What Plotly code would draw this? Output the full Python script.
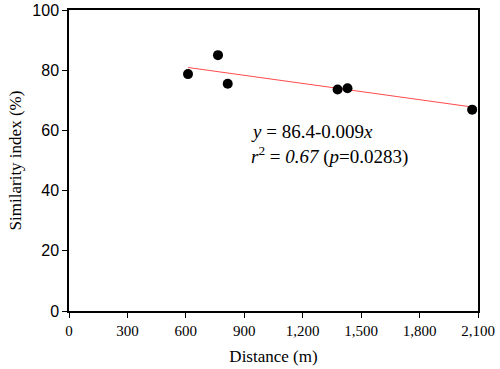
import plotly.graph_objects as go

distance = [611, 765, 815, 1379, 1430, 2070]
similarity = [78.7, 85.0, 75.5, 73.6, 74.0, 66.9]
intercept = 86.4
slope = -0.009
fit_x = [min(distance), max(distance)]
fit_y = [intercept + slope * v for v in fit_x]
x_ticks = [0, 300, 600, 900, 1200, 1500, 1800, 2100]
x_tick_labels = ["0", "300", "600", "900", "1,200", "1,500", "1,800", "2,100"]
y_ticks = [0, 20, 40, 60, 80, 100]

serif = "Liberation Serif"
sans = "Liberation Sans"

fig = go.Figure()
fig.add_trace(go.Scatter(x=fit_x, y=fit_y, mode="lines",
                         line=dict(color="#ff4b4b", width=1), showlegend=False))
fig.add_trace(go.Scatter(x=distance, y=similarity, mode="markers",
                         marker=dict(color="black", size=10), showlegend=False))

fig.add_annotation(x=925, y=59.8, xref="x", yref="y", xanchor="left", yanchor="middle",
                   text="<i>y</i> = 86.4-0.009<i>x</i>", showarrow=False,
                   font=dict(family=serif, size=19, color="black"))
fig.add_annotation(x=925, y=51.6, xref="x", yref="y", xanchor="left", yanchor="middle",
                   text="<i>r</i><sup>2</sup> = <i>0.67</i> (<i>p</i>=0.0283)", showarrow=False,
                   font=dict(family=serif, size=19, color="black"))

fig.update_layout(
    width=500, height=369,
    margin=dict(l=69, r=22, t=10, b=58),
    plot_bgcolor="white", paper_bgcolor="white",
    xaxis=dict(range=[0, 2100], tickvals=x_ticks, ticktext=x_tick_labels, automargin=False,
               showgrid=False, zeroline=False, showline=True, linecolor="black", linewidth=1.5,
               mirror=True, ticks="outside", ticklen=5, tickcolor="black",
               tickfont=dict(family=serif, size=15, color="black"),
               title=dict(text="Distance (m)", font=dict(family=serif, size=17, color="black"), standoff=12)),
    yaxis=dict(range=[0, 100], tickvals=y_ticks, automargin=False,
               showgrid=False, zeroline=False, showline=True, linecolor="black", linewidth=1.5,
               mirror=True, ticks="outside", ticklen=5, tickcolor="black",
               tickfont=dict(family=sans, size=16, color="black"),
               title=dict(text="Similarity index (%)", font=dict(family=serif, size=17, color="black"), standoff=6)),
)

fig.write_html("out.html", config={"displayModeBar": False},
               post_script="document.body.style.margin='0';document.body.style.overflow='hidden';")
